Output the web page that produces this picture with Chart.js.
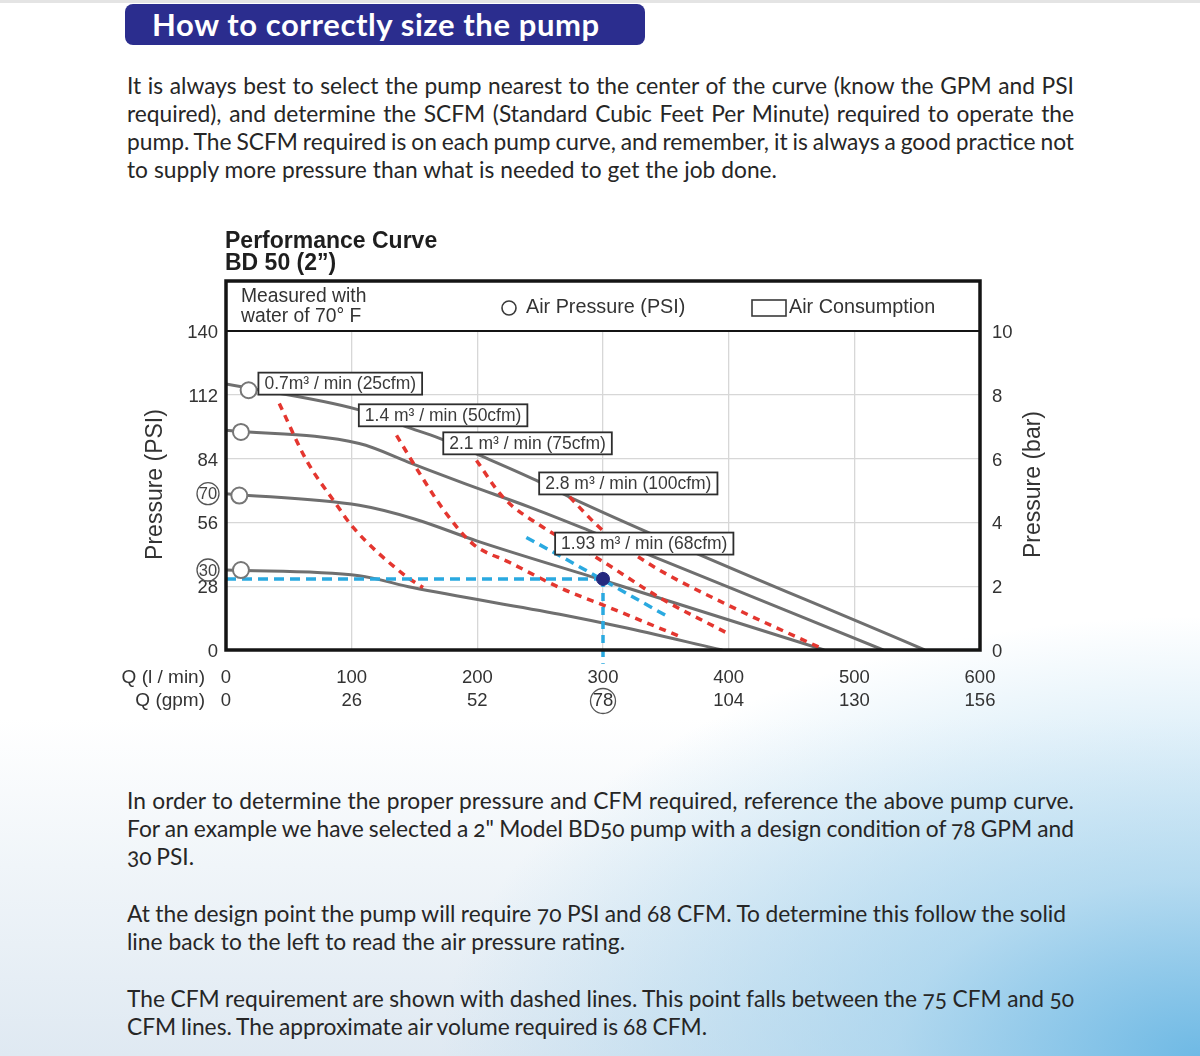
<!DOCTYPE html>
<html>
<head>
<meta charset="utf-8">
<script src="https://cdn.jsdelivr.net/npm/chart.js@4"></script>
<style>
html,body{margin:0;padding:0;}
body{width:1200px;height:1056px;position:relative;overflow:hidden;color:#262626;
  font-family:Lato,"Open Sans",sans-serif;
  background:
    radial-gradient(ellipse 760px 440px at 100% 100%, rgba(105,183,228,0.95) 0%, rgba(150,205,236,0.65) 40%, rgba(255,255,255,0) 100%),
    linear-gradient(to bottom, #ffffff 0%, #ffffff 68%, #f0f5f9 82%, #dfe9f2 100%);}
.topline{position:absolute;left:0;top:0;width:1200px;height:3px;background:#e4e4e4;}
.banner{position:absolute;left:125px;top:4px;width:520px;height:41px;background:#2b2d8e;border-radius:8px;}
.banner span{position:absolute;left:27px;top:0;line-height:40px;color:#fff;font-weight:bold;font-size:31px;letter-spacing:0.6px;font-family:Lato,sans-serif;}
.para{position:absolute;left:127px;font-size:21px;line-height:28px;font-feature-settings:"onum" 1;}
.para div{white-space:nowrap;height:28px;}
#wrap{position:absolute;left:0;top:220px;width:1200px;height:500px;}
</style>
</head>
<body>
<div class="topline"></div>
<div class="banner"><span>How to correctly size the pump</span></div>

<div class="para" style="top:72px">
  <div><span class="ln" data-w="947">It is always best to select the pump nearest to the center of the curve (know the GPM and PSI</span></div>
  <div><span class="ln" data-w="947">required), and determine the SCFM (Standard Cubic Feet Per Minute) required to operate the</span></div>
  <div><span class="ln" data-w="947">pump. The SCFM required is on each pump curve, and remember, it is always a good practice not</span></div>
  <div><span class="ln" data-w="650">to supply more pressure than what is needed to get the job done.</span></div>
</div>

<div id="wrap"><canvas id="c" width="1200" height="500"></canvas></div>

<div class="para" style="top:787px;line-height:28.5px">
  <div><span class="ln" data-w="947">In order to determine the proper pressure and CFM required, reference the above pump curve.</span></div>
  <div><span class="ln" data-w="947">For an example we have selected a 2" Model BD50 pump with a design condition of 78 GPM and</span></div>
  <div><span class="ln" data-w="67">30 PSI.</span></div>
</div>
<div class="para" style="top:900px">
  <div><span class="ln" data-w="939">At the design point the pump will require 70 PSI and 68 CFM. To determine this follow the solid</span></div>
  <div><span class="ln" data-w="498">line back to the left to read the air pressure rating.</span></div>
</div>
<div class="para" style="top:985px">
  <div><span class="ln" data-w="947">The CFM requirement are shown with dashed lines. This point falls between the 75 CFM and 50</span></div>
  <div><span class="ln" data-w="580">CFM lines. The approximate air volume required is 68 CFM.</span></div>
</div>

<script>
// ---------- axis data ----------
const flowLpm = [0, 100, 200, 300, 400, 500, 600];
const flowGpm = [0, 26, 52, 78, 104, 130, 156];
const psiTicks = [0, 28, 56, 84, 112, 140];
const barTicks = [0, 2, 4, 6, 8, 10];

// ---------- air pressure curves (Q l/min, P psi) ----------
const curveTopQ = [0, 105, 143.6, 170, 202, 247, 273.4, 556];
const curveTopP = [116.7, 105.5, 97.9, 92.9, 85.4, 74.4, 67.1, 0];
const curve2Q = [0, 106, 148, 190, 241.6, 289, 523];
const curve2P = [96.5, 90.6, 81.8, 73, 62.7, 52.4, 0];
const curve70Q = [0, 106, 150, 200, 300, 476];
const curve70P = [68.6, 63.5, 57.5, 47.8, 30.6, 0];
const curve30Q = [0, 106, 148.4, 265.5, 313.2, 395];
const curve30P = [35.1, 32.6, 27.4, 15.7, 10.3, 0];

// air pressure markers (circles)
const markerQ = [18, 11.9, 10.6, 11.9];
const markerP = [114.0, 95.7, 67.8, 35.1];

// ---------- air consumption lines ----------
const cfm25Q = [42.4, 64.1, 87.4, 101, 141, 156.8];
const cfm25P = [108.2, 83.2, 64.2, 53.9, 33.3, 27.4];
const cfm50Q = [135.7, 154.2, 175.4, 196.6, 225.8, 265.5, 305.2, 363.5];
const cfm50P = [94.2, 77.4, 59.8, 46.5, 38.4, 27.4, 18.6, 5.4];
const cfm75Q = [199.3, 220.4, 252.2, 294.7, 345, 400.6];
const cfm75P = [83.2, 67.1, 53.9, 40.6, 23.0, 6.9];
const cfm100Q = [273.4, 299.9, 337, 398, 472.8];
const cfm100P = [67.1, 52.4, 37.7, 20.1, 1.0];
const cfm68Q = [239, 268.1, 299.7, 353];
const cfm68P = [49.4, 40.6, 30.8, 14.2];

// design point
const designQ = 300;
const designP = 31.2;
const guideBelowP = -6;

// labels
const cfmLabels = ['0.7m³ / min (25cfm)', '1.4 m³ / min (50cfm)', '2.1 m³ / min (75cfm)', '2.8 m³ / min (100cfm)', '1.93 m³ / min (68cfm)'];
const cfmLabelQ = [25.8, 105.7, 172.9, 249.2, 261.9];
const cfmLabelP = [116.9, 103.0, 90.7, 73.1, 46.7];
const circledPsiLabels = ['70', '30'];
const circledPsiAt = [curve70P[0], curve30P[0]];

// ---------- text fitting for paragraphs ----------
(function fitText(){
  const spans = [...document.querySelectorAll('.ln')];
  let nat = 0, tgt = 0;
  spans.forEach(s => { nat += s.getBoundingClientRect().width; tgt += +s.dataset.w; });
  const fs = Math.max(18, Math.min(24, 21 * tgt / nat));
  document.querySelectorAll('.para').forEach(p => p.style.fontSize = fs + 'px');
  spans.forEach(s => {
    const w = s.getBoundingClientRect().width;
    const n = (s.textContent.match(/ /g) || []).length;
    if (n > 0) s.style.wordSpacing = ((+s.dataset.w - w) / n) + 'px';
  });
})();

// ---------- chart ----------
const pts = (q, p) => q.map((v, i) => ({x: v, y: p[i]}));
const GRAY = '#6f6f6f', RED = '#e4362f', BLUE = '#2aa9e0';
const FONT = 'Liberation Sans, Arial, sans-serif';

function curve(label, q, p, color, width, dash, extra) {
  return Object.assign({
    label, data: pts(q, p), borderColor: color, borderWidth: width, borderDash: dash || [],
    pointRadius: 0, pointHoverRadius: 0, fill: false, cubicInterpolationMode: 'monotone', borderCapStyle: 'butt'
  }, extra || {});
}

const decor = {
  id: 'decor',
  afterDatasetsDraw(chart) {
    const {ctx, scales: {x: xs, y: ys}} = chart;
    ctx.save();
    ctx.font = '17.5px ' + FONT;
    ctx.textBaseline = 'middle';
    ctx.textAlign = 'left';
    cfmLabels.forEach((t, i) => {
      const x = xs.getPixelForValue(cfmLabelQ[i]);
      const y = ys.getPixelForValue(cfmLabelP[i]);
      const w = ctx.measureText(t).width + 12, h = 22;
      ctx.fillStyle = '#fff';
      ctx.fillRect(x, y - h / 2, w, h);
      ctx.strokeStyle = '#2e2e2e';
      ctx.lineWidth = 1.8;
      ctx.strokeRect(x, y - h / 2, w, h);
      ctx.fillStyle = '#3a3a3a';
      ctx.fillText(t, x + 6, y + 1);
    });
    ctx.restore();
  },
  afterDraw(chart) {
    const {ctx, chartArea: a, scales: {x: xs, y: ys}} = chart;
    ctx.save();
    // frame + header band
    ctx.strokeStyle = '#141414';
    ctx.lineWidth = 3.5;
    ctx.strokeRect(a.left, a.top - 50, a.right - a.left, a.bottom - a.top + 50);
    ctx.lineWidth = 2;
    ctx.beginPath(); ctx.moveTo(a.left, a.top); ctx.lineTo(a.right, a.top); ctx.stroke();

    ctx.fillStyle = '#333';
    ctx.textBaseline = 'middle';
    ctx.textAlign = 'left';
    ctx.font = '19.3px ' + FONT;
    ctx.fillText('Measured with', a.left + 15, a.top - 34);
    ctx.fillText('water of 70° F', a.left + 15, a.top - 14);
    ctx.font = '19.8px ' + FONT;
    // legend: air pressure
    ctx.strokeStyle = '#3a3a3a'; ctx.lineWidth = 1.6;
    ctx.beginPath(); ctx.arc(a.left + 283, a.top - 23, 7, 0, Math.PI * 2); ctx.stroke();
    ctx.fillText('Air Pressure (PSI)', a.left + 300, a.top - 23);
    // legend: air consumption
    ctx.strokeRect(a.left + 526, a.top - 31, 34, 16);
    ctx.fillText('Air Consumption', a.left + 563, a.top - 23);

    // chart title
    ctx.fillStyle = '#1e1e1e';
    ctx.font = 'bold 23px ' + FONT;
    ctx.fillText('Performance Curve', a.left - 1, a.top - 89);
    ctx.fillText('BD 50 (2”)', a.left - 1, a.top - 67);

    // axis titles
    ctx.fillStyle = '#333';
    ctx.font = '23px ' + FONT;
    ctx.textAlign = 'center';
    const midY = (a.top + a.bottom) / 2 - 6;
    ctx.save(); ctx.translate(a.left - 70, midY); ctx.rotate(-Math.PI / 2); ctx.fillText('Pressure (PSI)', 0, 0); ctx.restore();
    ctx.save(); ctx.translate(a.right + 54, midY); ctx.rotate(-Math.PI / 2); ctx.fillText('Pressure (bar)', 0, 0); ctx.restore();

    // x row titles
    ctx.textAlign = 'right';
    ctx.font = '19px ' + FONT;
    ctx.fillText('Q (l / min)', a.left - 21, a.bottom + 28);
    ctx.fillText('Q (gpm)', a.left - 21, a.bottom + 51);

    // circled values
    ctx.strokeStyle = '#555'; ctx.lineWidth = 1.3;
    ctx.textAlign = 'center';
    ctx.font = '16.5px ' + FONT;
    circledPsiLabels.forEach((t, i) => {
      const y = ys.getPixelForValue(circledPsiAt[i]);
      const x = a.left - 18;
      ctx.fillStyle = '#fff';
      ctx.beginPath(); ctx.arc(x, y, 11, 0, Math.PI * 2); ctx.fill(); ctx.stroke();
      ctx.fillStyle = '#444';
      ctx.fillText(t, x, y + 1);
    });
    const gx = xs.getPixelForValue(designQ);
    ctx.beginPath(); ctx.arc(gx, a.bottom + 51, 12.5, 0, Math.PI * 2); ctx.stroke();
    ctx.restore();
  }
};

new Chart(document.getElementById('c'), {
  type: 'line',
  data: {
    datasets: [
      {label: 'Design point', data: [{x: designQ, y: designP}], showLine: false, pointRadius: 6.5,
       pointBackgroundColor: '#25297e', pointBorderColor: '#25297e', pointBorderWidth: 1},
      {label: 'Air Pressure (PSI)', data: pts(markerQ, markerP), showLine: false, pointRadius: 8,
       pointBackgroundColor: '#ffffff', pointBorderColor: '#767676', pointBorderWidth: 2},
      curve('68cfm', cfm68Q, cfm68P, BLUE, 3.5, [9, 6]),
      curve('guide h', [0, designQ], [designP, designP], BLUE, 3.5, [10, 6], {cubicInterpolationMode: 'default', tension: 0}),
      curve('guide v', [designQ, designQ], [designP, guideBelowP], BLUE, 3.5, [8, 6], {cubicInterpolationMode: 'default', tension: 0, clip: false}),
      curve('25cfm', cfm25Q, cfm25P, RED, 3.5, [7, 6]),
      curve('50cfm', cfm50Q, cfm50P, RED, 3.5, [7, 6]),
      curve('75cfm', cfm75Q, cfm75P, RED, 3.5, [7, 6]),
      curve('100cfm', cfm100Q, cfm100P, RED, 3.5, [7, 6]),
      curve('P top', curveTopQ, curveTopP, GRAY, 3),
      curve('P 2', curve2Q, curve2P, GRAY, 3),
      curve('P 70', curve70Q, curve70P, GRAY, 3),
      curve('P 30', curve30Q, curve30P, GRAY, 3)
    ]
  },
  options: {
    responsive: false,
    animation: false,
    layout: {padding: {top: 111, left: 0, right: 0, bottom: 0}},
    plugins: {legend: {display: false}, tooltip: {enabled: false}, title: {display: false}},
    scales: {
      x: {
        type: 'linear', position: 'bottom', min: 0, max: 600,
        afterBuildTicks: s => { s.ticks = flowLpm.map(v => ({value: v})); },
        afterFit: s => { s.height = 70; },
        grid: {color: '#d7d7d7', lineWidth: 1.3, drawTicks: false},
        border: {display: false},
        ticks: {
          padding: 16, autoSkip: false, maxRotation: 0, color: '#333',
          font: {family: FONT, size: 18.5, lineHeight: 1.25},
          callback: v => { const i = flowLpm.indexOf(v); return [String(v), String(flowGpm[i])]; }
        }
      },
      y: {
        type: 'linear', position: 'left', min: 0, max: 140,
        afterBuildTicks: s => { s.ticks = psiTicks.map(v => ({value: v})); },
        afterFit: s => { s.width = 226; },
        grid: {color: '#d7d7d7', lineWidth: 1.3, drawTicks: false},
        border: {display: false},
        ticks: {padding: 8, labelOffset: 2, color: '#333', font: {family: FONT, size: 18.5}}
      },
      yBar: {
        type: 'linear', position: 'right', min: 0, max: 10,
        afterBuildTicks: s => { s.ticks = barTicks.map(v => ({value: v})); },
        afterFit: s => { s.width = 220; },
        grid: {display: false, drawTicks: false},
        border: {display: false},
        ticks: {padding: 12, labelOffset: 2, color: '#333', font: {family: FONT, size: 18.5}}
      }
    }
  },
  plugins: [decor]
});
</script>
</body>
</html>
